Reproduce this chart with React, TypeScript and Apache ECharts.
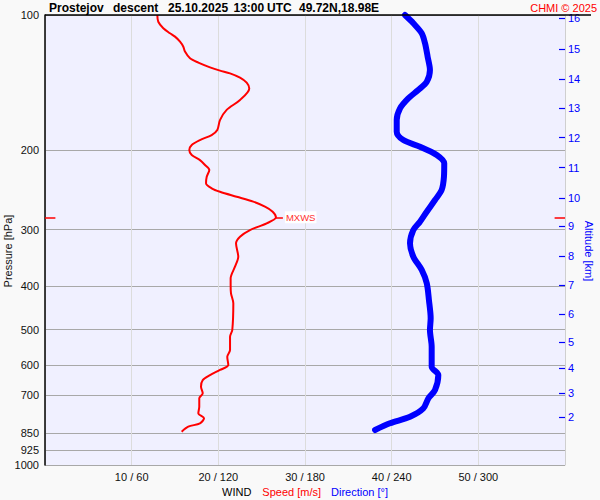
import React, { useEffect, useRef } from 'react';
import * as echarts from 'echarts';

// Wind speed profile (pressure hPa, speed m/s)
const speedPressure = [
  100, 103.5, 107.0, 109.8, 111.7, 114.6, 117.6, 120.6,
  124.8, 127.6, 130.7, 132.9, 134.8, 137.8, 141.4, 145.6,
  154.5, 162.5, 171.2, 180.1, 184.8, 189.6, 194.4, 199.5,
  204.7, 210.1, 215.4, 221.0, 228.8, 236.6, 242.7, 247.0,
  253.4, 259.9, 266.7, 273.6, 281.6, 290.4, 300.5, 311.0,
  321.7, 344.4, 362.5, 384.8, 398.1, 415.4, 437.2, 501.2,
  518.7, 555.3, 574.6, 599.5, 614.9, 631.0, 647.4, 669.9,
  692.9, 710.8, 742.0, 767.6, 787.5, 807.9, 822.1, 843.4,
];
const speedValues = [
  12.96, 13.07, 13.65, 14.42, 15.0, 15.58, 15.96, 16.15,
  16.73, 17.69, 19.04, 20.19, 21.35, 22.5, 23.27, 23.57,
  22.5, 20.96, 20.19, 19.88, 19.23, 17.88, 16.93, 16.65,
  16.93, 17.88, 18.46, 18.96, 18.66, 18.58, 19.23, 20.19,
  22.12, 24.03, 25.38, 26.27, 26.65, 25.58, 23.65, 22.5,
  22.04, 22.3, 21.92, 21.42, 21.42, 21.46, 21.73, 21.61,
  21.35, 21.35, 21.03, 21.15, 20.19, 19.04, 18.2, 18.0,
  18.2, 17.8, 17.8, 17.69, 18.35, 17.88, 16.53, 15.77,
];

// Wind direction profile (pressure hPa, direction deg)
const dirPressure = [
  100, 104.3, 109.8, 115.6, 123.8, 132.5, 140.7, 146.8,
  153.2, 161.2, 171.2, 181.7, 189.6, 196.2, 204.7, 213.6,
  228.8, 244.9, 257.7, 273.6, 288.0, 300.5, 321.7, 344.4,
  368.6, 394.6, 429.9, 472.1, 501.2, 545.9, 604.8, 631.0,
  681.3, 710.8, 748.2, 781.0, 807.9, 836.1,
];
const dirValues = [
  249.2, 255.0, 260.8, 263.1, 264.9, 266.5, 264.3, 258.4,
  251.5, 245.8, 243.5, 243.5, 248.1, 259.6, 271.2, 276.4,
  276.2, 274.6, 270.0, 264.3, 259.6, 255.0, 252.7, 255.0,
  260.8, 264.3, 265.8, 267.0, 266.5, 267.7, 267.7, 272.3,
  270.0, 265.4, 261.9, 252.7, 238.8, 228.5,
];

// Axis ticks
const pressureTicks = [100, 200, 300, 400, 500, 600, 700, 850, 925, 1000];
const altitudeKm = [2, 3, 4, 5, 6, 7, 8, 9, 10, 11, 12, 13, 14, 15, 16];
const altitudePressure = [782, 691, 609, 533, 462, 399, 344, 295, 255, 218.4, 187.4, 161.2, 138.8, 119.0, 101.7];
const speedMax = 60;
const dirMax = 360;

const FONT = '"Liberation Sans", Arial, sans-serif';

export default function App() {
  const ref = useRef<HTMLDivElement>(null);

  useEffect(() => {
    if (!ref.current) return;
    const chart = echarts.init(ref.current, null, { renderer: 'svg' });

    const speedData = speedPressure.map((p, i) => [speedValues[i], p]);
    const dirData = dirPressure.map((p, i) => [dirValues[i], p]);

    let mi = 0;
    speedValues.forEach((v, i) => { if (v > speedValues[mi]) mi = i; });
    const mxS = speedValues[mi];
    const mxP = speedPressure[mi];

    const option: any = {
      animation: false,
      backgroundColor: '#f9f9f9',
      textStyle: { fontFamily: FONT },
      title: [
        {
          left: 49,
          top: 2,
          padding: 0,
          text: '{a|Prostejov}{b|descent}{c|25.10.2025}{d|13:00}{e|UTC}{f|49.72N,18.98E}',
          textStyle: {
            fontFamily: FONT,
            rich: {
              a: { width: 64, fontSize: 12, fontWeight: 'bold', color: '#000', fontFamily: FONT },
              b: { width: 55, fontSize: 12, fontWeight: 'bold', color: '#000', fontFamily: FONT },
              c: { width: 65.5, fontSize: 12, fontWeight: 'bold', color: '#000', fontFamily: FONT },
              d: { width: 33.5, fontSize: 12, fontWeight: 'bold', color: '#000', fontFamily: FONT },
              e: { width: 32, fontSize: 12, fontWeight: 'bold', color: '#000', fontFamily: FONT },
              f: { fontSize: 12, fontWeight: 'bold', color: '#000', fontFamily: FONT },
            },
          },
        },
        {
          right: 3,
          top: 2,
          padding: 0,
          text: 'CHMI © 2025',
          textStyle: { fontSize: 11, fontWeight: 'normal', color: '#ff0000', fontFamily: FONT },
        },
      ],
      grid: {
        left: 45,
        right: 35,
        top: 15,
        bottom: 35,
        containLabel: false,
        outerBoundsMode: 'none',
        show: true,
        backgroundColor: '#f0f0ff',
        borderWidth: 0,
      },
      graphic: [
        {
          type: 'line',
          shape: { x1: 45, y1: 15, x2: 591, y2: 15 },
          style: { stroke: '#000', lineWidth: 1.5 },
          z: 100,
        },
        {
          type: 'text',
          x: 8,
          y: 251,
          rotation: Math.PI / 2,
          style: {
            text: 'Pressure [hPa]',
            fill: '#111',
            font: `11px ${FONT}`,
            align: 'center',
            verticalAlign: 'middle',
          },
        },
        {
          type: 'text',
          x: 589,
          y: 251,
          rotation: -Math.PI / 2,
          style: {
            text: 'Altitude [km]',
            fill: '#0000ff',
            font: `11px ${FONT}`,
            align: 'center',
            verticalAlign: 'middle',
          },
        },
      ],
      xAxis: [
        {
          type: 'value',
          min: 0,
          max: speedMax,
          interval: 10,
          position: 'bottom',
          axisLine: { show: false },
          axisTick: { show: false },
          axisLabel: {
            margin: 6,
            fontSize: 11,
            color: '#111',
            fontFamily: FONT,
            formatter: (v: number) => (v > 0 && v < speedMax ? `${v} / ${(v * dirMax) / speedMax}` : ''),
          },
          splitLine: { show: true, lineStyle: { color: '#dcdcdc', width: 1 } },
          name: '{w|WIND}{s|Speed [m/s]}{d|Direction [°]}',
          nameLocation: 'middle',
          nameGap: 20,
          nameTextStyle: {
            rich: {
              w: { fontSize: 11, color: '#000', fontFamily: FONT },
              s: { fontSize: 11, color: '#ff0000', fontFamily: FONT, padding: [0, 0, 0, 11] },
              d: { fontSize: 11, color: '#0000ff', fontFamily: FONT, padding: [0, 0, 0, 10] },
            },
          },
        },
        {
          type: 'value',
          min: 0,
          max: dirMax,
          show: false,
        },
      ],
      yAxis: [
        {
          type: 'log',
          logBase: 10,
          min: 100,
          max: 1000,
          inverse: true,
          position: 'left',
          axisLine: { show: true, lineStyle: { color: '#000', width: 1.5 } },
          axisTick: { show: false, customValues: pressureTicks },
          minorTick: { show: false },
          axisLabel: {
            customValues: pressureTicks,
            margin: 6,
            fontSize: 11,
            color: '#111',
            fontFamily: FONT,
            formatter: (v: number) => String(Math.round(v)),
          },
          splitLine: { show: true, lineStyle: { color: '#a8a8a8', width: 1 } },
        },
        {
          type: 'log',
          logBase: 10,
          min: 100,
          max: 1000,
          inverse: true,
          position: 'right',
          axisLine: { show: true, onZero: false, lineStyle: { color: '#cfcfcf', width: 1 } },
          axisTick: { show: true, inside: true, length: 6, customValues: altitudePressure, lineStyle: { color: '#0000ff', width: 1.2 } },
          minorTick: { show: false },
          axisLabel: {
            customValues: altitudePressure,
            margin: 3,
            fontSize: 11,
            color: '#0000ff',
            fontFamily: FONT,
            formatter: (v: number) => {
              let best = 0;
              altitudePressure.forEach((p, i) => {
                if (Math.abs(p - v) < Math.abs(altitudePressure[best] - v)) best = i;
              });
              return String(altitudeKm[best]);
            },
          },
          splitLine: { show: false },
        },
      ],
      series: [
        {
          type: 'line',
          name: 'Speed',
          xAxisIndex: 0,
          yAxisIndex: 0,
          data: speedData,
          showSymbol: false,
          smooth: 0.3,
          clip: false,
          lineStyle: { color: '#ff0000', width: 2 },
          itemStyle: { color: '#ff0000' },
          z: 3,
          markLine: {
            silent: true,
            symbol: ['none', 'none'],
            lineStyle: { color: '#ff0000', width: 1.5, type: 'solid' },
            label: { show: false },
            data: [
              [{ coord: [0, mxP] }, { coord: [1.2, mxP] }],
              [{ coord: [speedMax - 1.2, mxP] }, { coord: [speedMax, mxP] }],
              [
                { coord: [mxS, mxP] },
                {
                  coord: [mxS + 0.8, mxP],
                  label: {
                    show: true,
                    position: 'end',
                    formatter: 'MXWS',
                    color: '#ff3030',
                    fontSize: 9.5,
                    fontFamily: FONT,
                    backgroundColor: '#ffffff',
                    padding: [1, 1],
                    distance: 2,
                  },
                },
              ],
            ],
          },
        },
        {
          type: 'line',
          name: 'Direction',
          xAxisIndex: 1,
          yAxisIndex: 0,
          data: dirData,
          showSymbol: false,
          smooth: 0.3,
          clip: false,
          lineStyle: { color: '#0000ff', width: 6, cap: 'round', join: 'round' },
          itemStyle: { color: '#0000ff' },
          z: 3,
        },
      ],
    };

    chart.setOption(option);
    return () => chart.dispose();
  }, []);

  return (
    <div
      ref={ref}
      style={{ position: 'fixed', left: 0, top: 0, width: 600, height: 500 }}
    />
  );
}
